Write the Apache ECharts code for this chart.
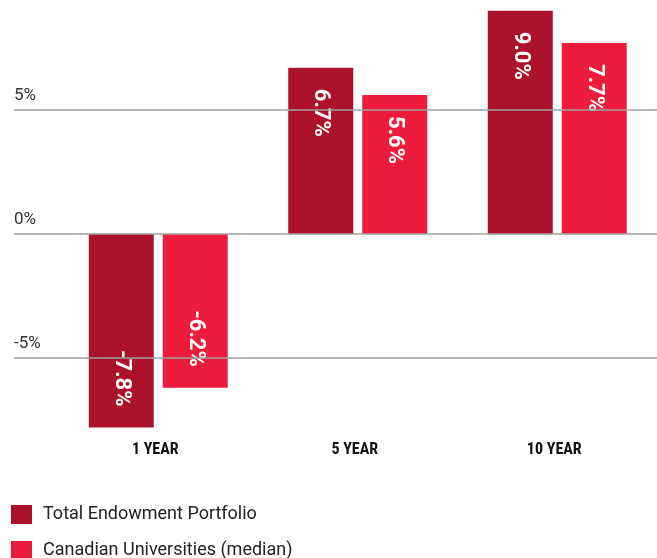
<!DOCTYPE html>
<html>
<head>
<meta charset="utf-8">
<title>Rendimientos</title>
<script src="https://cdn.jsdelivr.net/npm/echarts@6/dist/echarts.min.js"></script>
<style>
  html, body { margin: 0; padding: 0; background: #fff; }
  #chart { width: 657px; height: 558px; }
</style>
</head>
<body>
<div id="chart"></div>
<script>
// Datos de la gráfica
const categories = ["1 YEAR", "5 YEAR", "10 YEAR"];
const seriesNames = ["Total Endowment Portfolio", "Canadian Universities (median)"];
const totalEndowment = [-7.8, 6.7, 9.0];
const canadianMedian = [-6.2, 5.6, 7.7];
const yTicks = [5, 0, -5];
const yTickLabels = ["5%", "0%", "-5%"];

const colors = ["#AC1229", "#EE1C3C"];
const Y_MIN = -8;
const Y_MAX = 9;
const GRID_TOP = 10.8;
const GRID_BOTTOM = 125.6;

// Etiqueta vertical dentro de la barra, en el extremo alejado del cero
function barItems(values) {
  return values.map((v) => ({
    value: v,
    label: v >= 0
      ? { position: "insideTop", align: "left", verticalAlign: "middle" }
      : { position: "insideBottom", align: "right", verticalAlign: "middle" },
  }));
}

const barLabel = {
  show: true,
  rotate: -90,
  distance: 21,
  color: "#fff",
  fontFamily: "Roboto",
  fontWeight: "bold",
  fontSize: 22,
  formatter: (p) => p.value.toFixed(1) + "%",
};

const chart = echarts.init(document.getElementById("chart"), null, { renderer: "canvas" });

chart.setOption({
  animation: false,
  legend: {
    orient: "vertical",
    left: 11,
    top: 505,
    height: 120,
    padding: 0,
    icon: "rect",
    itemWidth: 21,
    itemHeight: 19,
    itemGap: 17,
    data: seriesNames,
    textStyle: { color: "#222", fontSize: 18, fontFamily: "Roboto", padding: [0, 0, 0, 6] },
  },
  grid: [
    // grid de las líneas de referencia (ancho completo)
    { left: 14, right: 0, top: GRID_TOP, bottom: GRID_BOTTOM },
    // grid de las barras
    { left: 58.5, width: 600, top: GRID_TOP, bottom: GRID_BOTTOM },
  ],
  xAxis: [
    { gridIndex: 0, type: "value", min: 0, max: 1, show: false },
    {
      gridIndex: 1,
      type: "category",
      data: categories,
      axisLine: { show: false },
      axisTick: { show: false },
      axisLabel: {
        margin: 10,
        color: "#111",
        fontFamily: "'Roboto Condensed', Roboto, sans-serif",
        fontWeight: "bold",
        fontSize: 16,
        padding: [0, 6, 0, 0],
      },
    },
  ],
  yAxis: [
    { gridIndex: 0, type: "value", min: Y_MIN, max: Y_MAX, show: false },
    { gridIndex: 1, type: "value", min: Y_MIN, max: Y_MAX, show: false },
  ],
  series: [
    {
      type: "line",
      xAxisIndex: 0,
      yAxisIndex: 0,
      data: [],
      silent: true,
      markLine: {
        silent: true,
        symbol: "none",
        lineStyle: { color: "#a0a0a0", width: 1.5, type: "solid" },
        label: {
          show: true,
          position: "insideStartTop",
          distance: [0, 6],
          color: "#333",
          fontFamily: "Roboto",
          fontSize: 17,
          formatter: (p) => yTickLabels[yTicks.indexOf(p.value)],
        },
        data: yTicks.map((t) => ({ yAxis: t })),
      },
    },
    {
      name: seriesNames[0],
      type: "bar",
      xAxisIndex: 1,
      yAxisIndex: 1,
      barWidth: 65,
      barGap: "13.8%",
      itemStyle: { color: colors[0] },
      label: barLabel,
      data: barItems(totalEndowment),
    },
    {
      name: seriesNames[1],
      type: "bar",
      xAxisIndex: 1,
      yAxisIndex: 1,
      barWidth: 65,
      barGap: "13.8%",
      itemStyle: { color: colors[1] },
      label: barLabel,
      data: barItems(canadianMedian),
    },
  ],
});
</script>
</body>
</html>
